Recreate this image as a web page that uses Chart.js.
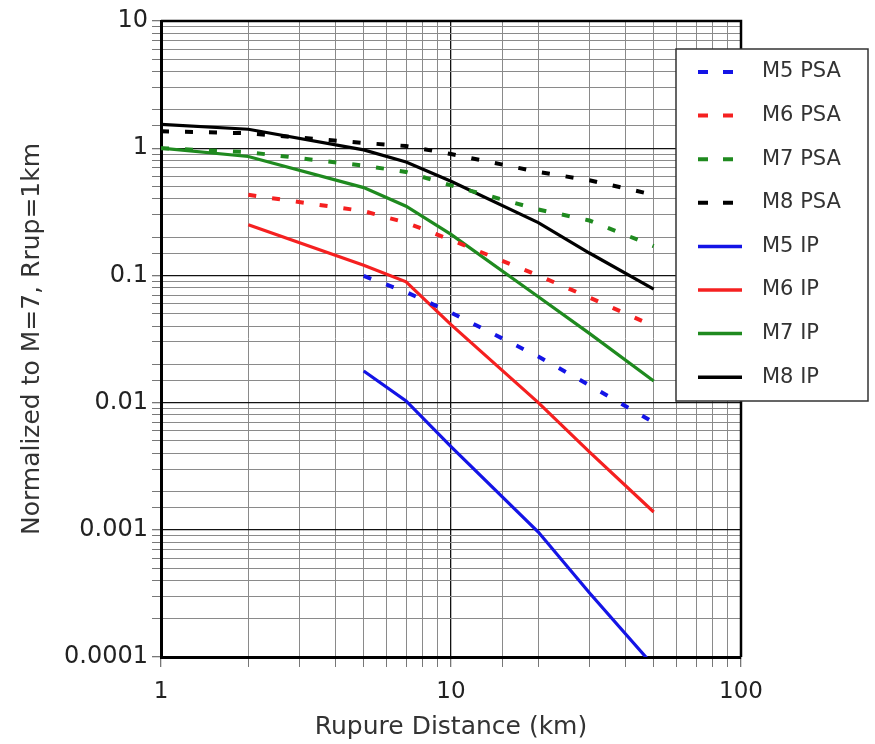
<!DOCTYPE html>
<html>
<head>
<meta charset="utf-8">
<script src="https://cdn.jsdelivr.net/npm/chart.js@4"></script>
<style>
  html, body { margin: 0; padding: 0; background: #fff; }
  canvas { display: block; }
</style>
</head>
<body>
<canvas id="myChart" width="875" height="744"></canvas>
<script>
// distances (km) where the curves are sampled
var distances = [1, 2, 5, 7, 10, 20, 30, 50];

// PSA curves (dashed)
var m5_psa = [null, null, 0.099, 0.074, 0.051, 0.023, 0.0137, 0.0070];
var m6_psa = [null, 0.43, 0.32, 0.26, 0.19, 0.10, 0.067, 0.040];
var m7_psa = [1.0, 0.93, 0.73, 0.65, 0.51, 0.33, 0.27, 0.17];
var m8_psa = [1.36, 1.31, 1.10, 1.04, 0.90, 0.65, 0.56, 0.43];

// IP curves (solid)
var m5_ip = [null, null, 0.0177, 0.0103, 0.0045, 0.00096, 0.00032, 0.000085];
var m6_ip = [null, 0.25, 0.12, 0.089, 0.041, 0.010, 0.0041, 0.00138];
var m7_ip = [1.0, 0.86, 0.49, 0.35, 0.21, 0.068, 0.035, 0.0148];
var m8_ip = [1.54, 1.41, 0.97, 0.78, 0.55, 0.26, 0.15, 0.078];

var seriesNames = ["M5 PSA", "M6 PSA", "M7 PSA", "M8 PSA", "M5 IP", "M6 IP", "M7 IP", "M8 IP"];
var seriesValues = [m5_psa, m6_psa, m7_psa, m8_psa, m5_ip, m6_ip, m7_ip, m8_ip];
var seriesColors = ["#1414e6", "#f52020", "#1f8a1f", "#000000", "#1414e6", "#f52020", "#1f8a1f", "#000000"];

var xTickLabels = {0: "1", 1: "10", 2: "100"};
var yTickLabels = {"-4": "0.0001", "-3": "0.001", "-2": "0.01", "-1": "0.1", "0": "1", "1": "10"};

function isDecade(v) {
    var l = Math.log10(v);
    return Math.abs(l - Math.round(l)) < 1e-6;
}

var datasets = [];
for (var i = 0; i < seriesNames.length; i++) {
    var pts = [];
    for (var j = 0; j < distances.length; j++) {
        if (seriesValues[i][j] !== null) pts.push({x: distances[j], y: seriesValues[i][j]});
    }
    var dashed = seriesNames[i].indexOf("PSA") >= 0;
    datasets.push({
        label: seriesNames[i],
        data: pts,
        borderColor: seriesColors[i],
        borderWidth: dashed ? 4 : 3.2,
        borderDash: dashed ? [8, 16] : [],
        pointRadius: 0,
        fill: false,
        tension: 0
    });
}

function gridColor(ctx) {
    if (!ctx.tick) return "#888";
    return isDecade(ctx.tick.value) ? "#111" : "#8a8a8a";
}
function gridWidth(ctx) {
    if (!ctx.tick) return 1;
    return isDecade(ctx.tick.value) ? 1.3 : 1;
}

// top and right frame lines
var framePlugin = {
    id: "frame",
    afterDatasetsDraw: function(chart) {
        var a = chart.chartArea, c = chart.ctx;
        c.save();
        c.strokeStyle = "#000";
        c.lineWidth = 2.5;
        c.beginPath();
        c.moveTo(a.left, a.top);
        c.lineTo(a.right, a.top);
        c.lineTo(a.right, a.bottom);
        c.stroke();
        c.restore();
    }
};

// boxed legend sitting over the right side of the plot
var boxLegend = {
    id: "boxLegend",
    afterDraw: function(chart) {
        var c = chart.ctx;
        var bx = 676, by = 49, bw = 192, bh = 352;
        c.save();
        c.fillStyle = "#fff";
        c.fillRect(bx, by, bw, bh);
        c.strokeStyle = "#333";
        c.lineWidth = 1.5;
        c.strokeRect(bx, by, bw, bh);
        c.font = "21px 'DejaVu Sans'";
        c.textBaseline = "middle";
        chart.data.datasets.forEach(function(ds, k) {
            var y = 72 + k * 43.6;
            c.strokeStyle = ds.borderColor;
            c.lineWidth = ds.borderDash.length ? 4 : 3.5;
            c.setLineDash(ds.borderDash.length ? [10, 15] : []);
            c.beginPath();
            c.moveTo(698, y);
            c.lineTo(742, y);
            c.stroke();
            c.setLineDash([]);
            c.fillStyle = "#333";
            c.fillText(ds.label, 762, y);
        });
        c.restore();
    }
};

var ctx = document.getElementById("myChart").getContext("2d");
var myChart = new Chart(ctx, {
    type: "line",
    data: { datasets: datasets },
    options: {
        responsive: false,
        animation: false,
        layout: { padding: { top: 21, right: 134, left: 0, bottom: 0 } },
        plugins: {
            legend: { display: false },
            tooltip: { enabled: false }
        },
        scales: {
            x: {
                type: "logarithmic",
                min: 1,
                max: 100,
                afterFit: function(s) { s.height = 87; },
                ticks: {
                    autoSkip: false,
                    maxRotation: 0,
                    padding: 11,
                    color: "#222",
                    font: { family: "DejaVu Sans", size: 23 },
                    callback: function(v) {
                        return isDecade(v) ? xTickLabels[Math.round(Math.log10(v))] : "";
                    }
                },
                grid: { color: gridColor, lineWidth: gridWidth, tickLength: 10, tickColor: "#777" },
                border: { color: "#000", width: 3 },
                title: {
                    display: true,
                    text: "Rupure Distance (km)",
                    color: "#333",
                    font: { family: "DejaVu Sans", size: 25 },
                    padding: { top: 0, bottom: 2 }
                }
            },
            y: {
                type: "logarithmic",
                min: 0.0001,
                max: 10,
                afterFit: function(s) { s.width = 161; },
                ticks: {
                    autoSkip: false,
                    padding: 4,
                    color: "#222",
                    font: { family: "DejaVu Sans", size: 24 },
                    callback: function(v) {
                        return isDecade(v) ? yTickLabels[String(Math.round(Math.log10(v)))] : "";
                    }
                },
                grid: { color: gridColor, lineWidth: gridWidth, tickLength: 9, tickColor: "#777" },
                border: { color: "#000", width: 3 },
                title: {
                    display: true,
                    text: "Normalized to M=7, Rrup=1km",
                    color: "#333",
                    font: { family: "DejaVu Sans", size: 25 },
                    padding: { top: 17, bottom: 0 }
                }
            }
        }
    },
    plugins: [framePlugin, boxLegend]
});
</script>
</body>
</html>
